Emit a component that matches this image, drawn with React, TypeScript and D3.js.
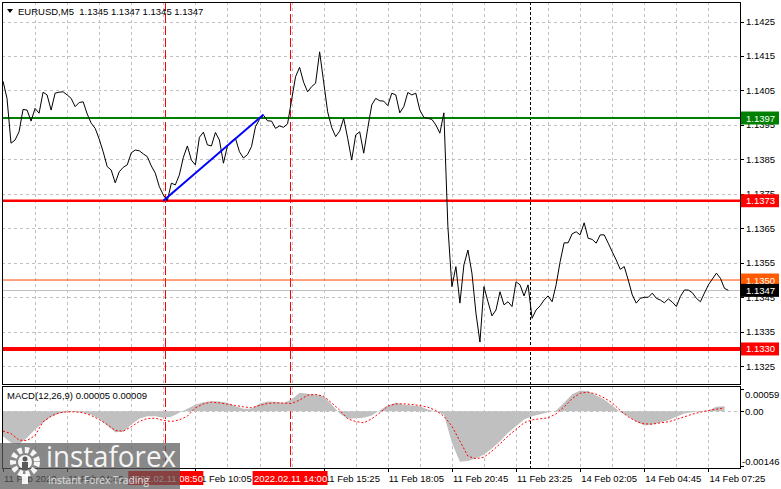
import React from "react";
import * as d3 from "d3";

const W = 781;
const H = 489;

// Close prices sampled every 2 M5 bars (bar 0 = 11 Feb 02:05)
const PRICE_STEP = 2;
const priceCloses = [
  1.14077, 1.14027, 1.13897, 1.13906, 1.1393, 1.13995, 1.13993, 1.13961, 1.13998, 1.13984,
  1.14045, 1.14037, 1.13993, 1.14042, 1.14045, 1.14046, 1.14037, 1.14027, 1.14003, 1.14015,
  1.14017, 1.13982, 1.13955, 1.1394, 1.13909, 1.13872, 1.13829, 1.13819, 1.13782, 1.13814,
  1.13827, 1.13834, 1.13869, 1.13877, 1.13875, 1.13866, 1.13858, 1.13831, 1.1381, 1.13771,
  1.13747, 1.1373, 1.13781, 1.13776, 1.13805, 1.13856, 1.13889, 1.13848, 1.13834, 1.13914,
  1.13929, 1.13892, 1.13889, 1.13928, 1.13906, 1.13839, 1.13889, 1.13903, 1.13911, 1.13872,
  1.13854, 1.13864, 1.13887, 1.13945, 1.13966, 1.13978, 1.13962, 1.13961, 1.1394, 1.13947,
  1.13943, 1.13953, 1.14022, 1.1409, 1.14117, 1.14074, 1.14046, 1.14061, 1.14071, 1.14162,
  1.14075, 1.13988, 1.13943, 1.13916, 1.13932, 1.13969, 1.13911, 1.13848, 1.13921, 1.1393,
  1.13868, 1.1394, 1.14008, 1.14027, 1.1402, 1.14019, 1.14006, 1.14042, 1.14037, 1.13985,
  1.14003, 1.14044, 1.14037, 1.14042, 1.13993, 1.13972, 1.13969, 1.13966, 1.1395, 1.13926,
  1.13985, 1.13655, 1.13481, 1.13539, 1.13433, 1.13544, 1.13587, 1.1352, 1.13404, 1.1332,
  1.13481, 1.13437, 1.13396, 1.13413, 1.13466, 1.13428, 1.13437, 1.13423, 1.13495, 1.13486,
  1.13454, 1.13486, 1.13389, 1.13413, 1.13425, 1.13442, 1.13454, 1.13437, 1.13486, 1.13553,
  1.13608, 1.13608, 1.13634, 1.1364, 1.13631, 1.13666, 1.13621, 1.13618, 1.13607, 1.13631,
  1.13631, 1.13607, 1.13582, 1.13558, 1.13531, 1.13539, 1.135, 1.13457, 1.13433, 1.13447,
  1.1345, 1.1345, 1.13462, 1.13447, 1.13442, 1.13434, 1.13445, 1.13436, 1.13423, 1.13452,
  1.13471, 1.13471, 1.13463, 1.13447, 1.13437, 1.13462, 1.13486, 1.13503, 1.1352, 1.13505,
  1.13476, 1.1347,
];

// MACD values (in 1e-5 units) sampled every 4 bars
const MACD_STEP = 4;
const macdHistE5 = [
  -66.5, -84.3, -88.7, -71, -48.8, -31, -15.1, -6.2, -1.8, -1.8,
  -3.5, -9.8, -20.4, -38.1, -55.9, -55, -35.5, -20.4, -13.3, -13.3,
  -17.7, -15.1, -4.4, 6.2, 16.9, 24, 26.6, 25.7, 22.2, 13.3,
  6.2, 6.2, 20.4, 25.7, 24.8, 22.2, 31, 48.8, 46.1, 44.4,
  39.9, 17.7, -6.2, -20.4, -18.6, -17.7, -11.5, 2.7, 15.1, 22.2,
  16.9, 15.1, 13.3, 4.4, -0.9, -8.9, -84.3, -134.8, -133, -126,
  -115.3, -99.3, -79.8, -57.7, -39.9, -22.2, -13.3, -8, -2.7, 1.8,
  22.2, 45.2, 55, 53.2, 41.7, 31, 15.1, -2.7, -13.3, -28.4,
  -38.1, -35.5, -30.2, -24, -15.1, -6.2, -2.7, -0.9, 1.8, 11.5,
  13.3,
];
const macdSignalE5 = [
  -53.2, -59.4, -77.2, -78.1, -64.8, -28.4, -13.3, -4.4, -1.8, -1.8,
  -4.4, -11.5, -22.2, -35.5, -51.4, -53.2, -41.7, -27.5, -19.5, -18.6,
  -24.8, -27.5, -23.1, -13.3, 8.9, 19.5, 24, 22.2, 18.6, 15.1,
  11.5, 8.9, 15.1, 20.4, 22.2, 21.3, 20.4, 29.3, 42.6, 44.4,
  39.9, 22.2, 2.7, -20.4, -27.5, -31, -20.4, -4.4, 13.3, 19.5,
  19.5, 17.7, 15.1, 10.6, 1.8, -13.3, -39.9, -79.8, -119.7, -126.8,
  -122.4, -106.4, -86.9, -66.5, -48.8, -31, -23.1, -20.4, -17.7, -7.1,
  11.5, 33.7, 47.9, 50.6, 45.2, 35.5, 22.2, 1.8, -15.1, -27.5,
  -33.7, -34.6, -31, -28.4, -22.2, -15.1, -8, -2.7, 1.8, 5.3,
  8.9,
];

const priceTicks = [1.1425, 1.1415, 1.1405, 1.1395, 1.1385, 1.1375, 1.1365, 1.1355, 1.1345, 1.1335, 1.1325];
const levelPrices = [1.1397, 1.1373, 1.135, 1.133];
const lastPrice = 1.1347;
const trendBars = [80, 130];
const trendPrices = [1.1373, 1.1398];
const timeLabelBars = [0, 32, 64, 96, 128, 160, 192, 224, 256, 288, 320, 352];
const timeLabels = [
  "11 Feb 2022", "11 Feb 04:45", "11 Feb 07:25", "11 Feb 10:05", "11 Feb 12:45", "11 Feb 15:25",
  "11 Feb 18:05", "11 Feb 20:45", "11 Feb 23:25", "14 Feb 02:05", "14 Feb 04:45", "14 Feb 07:25",
];
const markerBars = [81, 143];
const markerLabels = ["2022.02.11 08:50", "2022.02.11 14:00"];
const separatorBars = [263];
const macdTicks = [0.00059, 0, -0.00146];
const macdTickLabels = ["0.00059", "0.00", "-0.00146"];
const titleText = "EURUSD,M5  1.1345 1.1347 1.1345 1.1347";
const macdTitle = "MACD(12,26,9) 0.00005 0.00009";

const FONT = "'Liberation Sans', Arial, sans-serif";

export default function App() {
  const L = 2, R = 740, T = 2, B = 384, MT = 386, MB = 468;
  const x = d3.scaleLinear().domain([0, 360]).range([3, 3 + 360 * 2.004]);
  const yP = d3.scaleLinear().domain([1.1325, 1.1425]).range([366.2, 21.5]);
  const yM = d3.scaleLinear().domain([-0.00146, 0.00059]).range([466, 389]);
  const px = (v: number) => Math.round(v) + 0.5;

  const priceLine = d3.line<number>().x((_, i) => x(i * PRICE_STEP)).y((d) => yP(d));
  const histArea = d3
    .area<number>()
    .x((_, i) => x(i * MACD_STEP))
    .y0(yM(0))
    .y1((d) => yM(d * 1e-5));
  const signalLine = d3.line<number>().x((_, i) => x(i * MACD_STEP)).y((d) => yM(d * 1e-5));

  const gridBars = d3.range(16, 361, 16);
  const levelStyles = [
    { stroke: "#008000", w: 2, box: "#008000" },
    { stroke: "#ff0000", w: 2.5, box: "#ff0000" },
    { stroke: "#ff4500", w: 1, box: "#ff5a00" },
    { stroke: "#ff0000", w: 4, box: "#ff0000" },
  ];
  const MBOX_HALF = 37;
  const LABEL_W = 55;
  const markerBoxes = markerBars.map((b) => [x(b) - MBOX_HALF, x(b) + MBOX_HALF + 1]);
  // a time label lying completely under a marker box is not visible in the original
  const hidden = (b: number) => markerBoxes.some(([a, c]) => x(b) > a && x(b) + LABEL_W < c);

  const boxLabel = (v: number, fill: string, key: string) => (
    <g key={key}>
      <rect x={R + 1} y={yP(v) - 6.5} width={38} height={13} fill={fill} />
      <text x={746} y={yP(v)} fill="#fff" fontSize={9.5} dominantBaseline="central" fontFamily={FONT}>
        {v.toFixed(4)}
      </text>
    </g>
  );

  return (
    <svg
      width={W}
      height={H}
      viewBox={`0 0 ${W} ${H}`}
      style={{ position: "absolute", left: 0, top: 0, background: "#fff" }}
    >
      <defs>
        <clipPath id="mainClip">
          <rect x={L} y={T} width={R - L} height={B - T} />
        </clipPath>
        <clipPath id="macdClip">
          <rect x={L} y={MT} width={R - L} height={MB - MT} />
        </clipPath>
      </defs>
      <rect x={0} y={0} width={W} height={H} fill="#fff" />

      {/* grid */}
      <g stroke="#c0c0c0" strokeWidth={1} strokeDasharray="3,3">
        {gridBars.map((b) => (
          <line key={"gv" + b} x1={px(x(b))} x2={px(x(b))} y1={T} y2={B} />
        ))}
        {priceTicks.map((p) => (
          <line key={"gh" + p} x1={L} x2={R} y1={px(yP(p))} y2={px(yP(p))} />
        ))}
        {gridBars.map((b) => (
          <line key={"gm" + b} x1={px(x(b))} x2={px(x(b))} y1={MT} y2={MB} />
        ))}
        <line x1={L} x2={R} y1={px(yM(0))} y2={px(yM(0))} />
      </g>

      {/* current price line */}
      <line x1={L} x2={R} y1={px(yP(lastPrice))} y2={px(yP(lastPrice))} stroke="#c0c0c0" strokeWidth={1} />

      {/* vertical markers */}
      {markerBars.map((b) => (
        <g key={"mk" + b} stroke="#ff0000" strokeWidth={1} strokeDasharray="9,3">
          <line x1={px(x(b))} x2={px(x(b))} y1={T} y2={B} />
          <line x1={px(x(b))} x2={px(x(b))} y1={MT} y2={MB} />
        </g>
      ))}
      {separatorBars.map((b) => (
        <g key={"sp" + b} stroke="#000" strokeWidth={1} strokeDasharray="3,2">
          <line x1={px(x(b))} x2={px(x(b))} y1={T} y2={B} />
          <line x1={px(x(b))} x2={px(x(b))} y1={MT} y2={MB} />
        </g>
      ))}

      {/* levels, price and trend line */}
      <g clipPath="url(#mainClip)">
        {levelPrices.map((p, i) => (
          <line key={"lv" + p} x1={L} x2={R} y1={yP(p)} y2={yP(p)} stroke={levelStyles[i].stroke} strokeWidth={levelStyles[i].w} />
        ))}
        <path d={priceLine(priceCloses) || ""} fill="none" stroke="#000" strokeWidth={1} />
        <line
          x1={x(trendBars[0])}
          y1={yP(trendPrices[0])}
          x2={x(trendBars[1])}
          y2={yP(trendPrices[1])}
          stroke="#0000ff"
          strokeWidth={2}
        />
      </g>

      {/* MACD */}
      <g clipPath="url(#macdClip)">
        <path d={histArea(macdHistE5) || ""} fill="#c0c0c0" />
        <path d={signalLine(macdSignalE5) || ""} fill="none" stroke="#ff0000" strokeWidth={1} strokeDasharray="2,2" />
      </g>

      {/* frames */}
      <rect x={L + 0.5} y={T + 0.5} width={R - L} height={B - T} fill="none" stroke="#000" strokeWidth={1} />
      <rect x={L + 0.5} y={MT + 0.5} width={R - L} height={MB - MT} fill="none" stroke="#000" strokeWidth={1} />

      {/* price axis */}
      <g fontFamily={FONT} fontSize={9.5} fill="#000">
        {priceTicks.map((p) => (
          <g key={"pt" + p}>
            <line x1={R} x2={R + 4} y1={px(yP(p))} y2={px(yP(p))} stroke="#000" />
            <text x={746} y={yP(p)} dominantBaseline="central">
              {p.toFixed(4)}
            </text>
          </g>
        ))}
        {macdTicks.map((v, i) => {
          const yy = Math.min(Math.max(yM(v), 394), 461.5);
          return (
            <g key={"mt" + v}>
              <line x1={R} x2={R + 4} y1={px(yM(v))} y2={px(yM(v))} stroke="#000" />
              <text x={i === 2 ? 742 : 745} y={yy} dominantBaseline="central">
                {macdTickLabels[i]}
              </text>
            </g>
          );
        })}
      </g>

      {/* level boxes */}
      {levelPrices.map((p, i) => boxLabel(p, levelStyles[i].box, "bx" + p))}
      {boxLabel(lastPrice, "#000", "last")}

      {/* time axis */}
      <g fontFamily={FONT} fontSize={9.5} fill="#000">
        {timeLabelBars.map((b, i) =>
          hidden(b) ? null : (
            <g key={"tl" + b}>
              <line x1={px(x(b))} x2={px(x(b))} y1={MB} y2={MB + 4} stroke="#000" />
              <text x={x(b) + 1} y={478} dominantBaseline="central">
                {timeLabels[i]}
              </text>
            </g>
          )
        )}
      </g>
      {markerBars.map((b, i) => (
        <g key={"ml" + b}>
          <rect x={x(b) - MBOX_HALF} y={471} width={MBOX_HALF * 2 + 1} height={14} fill="#ff0000" />
          <text x={x(b) + 1} y={478} fill="#fff" fontSize={9.5} fontFamily={FONT} textAnchor="middle" dominantBaseline="central">
            {markerLabels[i]}
          </text>
        </g>
      ))}

      {/* titles */}
      <path d="M7,9 L13,9 L10,13 Z" fill="#000" />
      <text x={18} y={11} fontSize={9.5} fontFamily={FONT} fill="#000" dominantBaseline="central" xmlSpace="preserve">
        {titleText}
      </text>
      <text x={7} y={395} fontSize={9.5} fontFamily={FONT} fill="#000" dominantBaseline="central">
        {macdTitle}
      </text>

      {/* watermark */}
      <g>
        <rect x={0} y={443} width={180} height={46} fill="#5a5a5a" opacity={0.72} />
        <circle cx={25} cy={462} r={12} fill="none" stroke="#fff" strokeWidth={6} strokeDasharray="4.2,2.8" opacity={0.92} />
        <circle cx={25} cy={462} r={7} fill="#fff" opacity={0.92} />
        <circle cx={25} cy={459} r={2.5} fill="#5a5a5a" />
        <rect x={22} y={462} width={6} height={8} fill="#5a5a5a" />
        <rect x={22} y={474} width={6} height={10} fill="#fff" opacity={0.92} />
        <text
          x={46}
          y={467}
          fontSize={29}
          fontFamily="'Open Sans', sans-serif"
          fill="#fff"
          opacity={0.92}
          textLength={130}
          lengthAdjust="spacingAndGlyphs"
        >
          instaforex
        </text>
        <text
          x={48}
          y={484}
          fontSize={11.5}
          fontFamily="'Open Sans', sans-serif"
          fill="#e8e8e8"
          opacity={0.9}
          textLength={101}
          lengthAdjust="spacingAndGlyphs"
        >
          Instant Forex Trading
        </text>
      </g>
    </svg>
  );
}
